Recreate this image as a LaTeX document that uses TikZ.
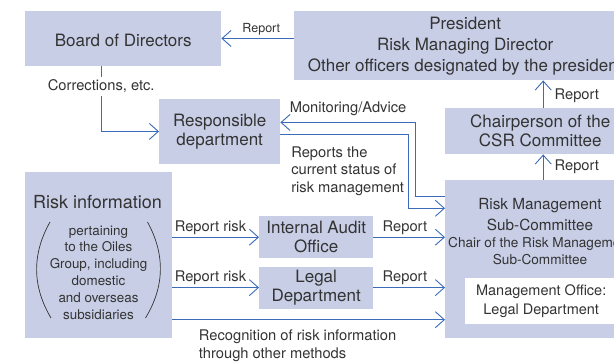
\documentclass[tikz,border=0pt]{standalone}
\usepackage{fontspec}
\setmainfont{TeX Gyre Heros}
\usetikzlibrary{arrows.meta,positioning}
\definecolor{riskfill}{RGB}{200,206,230}
\definecolor{riskblue}{RGB}{58,108,184}
\definecolor{risktext}{RGB}{51,51,51}
\newcommand{\fsz}[2]{\fontsize{#1}{#2}\selectfont}

\begin{document}
\begin{tikzpicture}[x=1pt, y=-1pt,
    box/.style={fill=riskfill, text=risktext, anchor=north west, inner sep=0pt, align=center, font=\fsz{17}{19},
        execute at begin node={\rule{0pt}{16.5pt}}},
    lbl/.style={text=risktext, inner sep=0pt, font=\fsz{14.7}{17.8}},
    link/.style={draw=riskblue, line width=0.9pt, -{Straight Barb[length=9pt,width=16pt]}}
]
\useasboundingbox (0,0) rectangle (614,363);
\clip (0,0) rectangle (614,363);

% boxes
\node[box, minimum width=196pt, minimum height=54.5pt] (board) at (25,11) {Board of Directors};
\node[box, minimum width=342pt, minimum height=69pt, font=\fsz{17}{21},
    execute at begin node={\rule{0pt}{18pt}}] (pres) at (294,11) {President\\Risk Managing Director\\Other officers designated by the president};
\node[box, minimum width=121pt, minimum height=64.5pt] (resp) at (159,99) {Responsible\\department};
\node[box, minimum width=190pt, minimum height=46pt] (chair) at (445,108) {Chairperson of the\\CSR Committee};
\node[box, minimum width=147pt, minimum height=166pt] (info) at (25,172) {};
\node[box, minimum width=114pt, minimum height=42pt] (audit) at (259,216) {Internal Audit\\Office};
\node[box, minimum width=114pt, minimum height=42pt, below=8pt of audit] (legal) {Legal\\Department};
\node[box, minimum width=190pt, minimum height=158pt] (rm) at (445,180) {};

% text of the risk information box
\node[text=risktext, font=\fsz{18}{20}] (infotitle) at (97.5,202.5) {Risk information};
\node[text=risktext, align=center, font=\fsz{13.4}{16.8}] (infobody) at (98.5,272.5) {pertaining\\to the Oiles\\Group, including\\domestic\\and overseas\\subsidiaries};
\draw[risktext, line width=0.7pt] (50,222) .. controls (32,254) and (32,286) .. (51,318);
\draw[risktext, line width=0.7pt] (147.5,222) .. controls (165,254) and (165,286) .. (145.5,318);

% text of the sub-committee box
\node[text=risktext, align=center, font=\fsz{15.3}{21.7}] (rmtitle) at (540,214.5) {Risk Management\\Sub-Committee};
\node[text=risktext, align=center, font=\fsz{13.6}{17}] (rmchair) at (540,251.5) {Chair of the Risk Management\\Sub-Committee};
\node[fill=white, text=risktext, anchor=north west, inner sep=0pt, align=center, minimum width=152pt, minimum height=46pt, font=\fsz{14.5}{19}] (office) at (465,278) {Management Office:\\Legal Department};

% connectors
\draw[link] (pres.west |- board.east) -- node[lbl, pos=0.45, above=3pt, font=\fsz{12.5}{14}] {Report} (board.east);
\draw[link] ([xshift=-22pt]board.south) |- node[lbl, pos=0.156, fill=white, inner sep=3pt] {Corrections, etc.} (resp.west);
\draw[link] ([yshift=-16.7pt]rm.north west) -- ++(-29.3,0) |- node[lbl, pos=0.75, above=6pt] {Monitoring/Advice} ([yshift=9pt]resp.east);
\draw[link] ([yshift=-3pt]resp.east) -- ++(128.3,0) |- ([yshift=-28.3pt]rm.north west);
\node[lbl, align=left, below right=14.7pt and 10.7pt of resp.east] (statuslbl) {Reports the\\current status of\\risk management};

\coordinate (chairtop) at ([xshift=3pt]chair.north);
\coordinate (rmtop) at ([xshift=3pt]rm.north);
\draw[link] (chairtop) -- node[lbl, right=11pt, yshift=-1.5pt] {Report} (chairtop |- pres.south);
\draw[link] (rmtop) -- node[lbl, right=11pt] {Report} (rmtop |- chair.south);

\draw[link] (info.east |- audit.west) -- node[lbl, pos=0.44, above=2.5pt] {Report risk} (audit.west);
\draw[link] (info.east |- legal.west) -- node[lbl, pos=0.44, above=2.5pt] {Report risk} (legal.west);
\draw[link] (audit.east) -- node[lbl, pos=0.44, above=2pt] {Report} (audit.east -| rm.west);
\draw[link] (legal.east) -- node[lbl, pos=0.44, above=2pt] {Report} (legal.east -| rm.west);

\coordinate (recog) at ([yshift=18.7pt]info.south east);
\draw[link] (recog) -- (recog -| rm.west);
\node[lbl, align=left, below right=10pt and 26.3pt of recog] (recoglbl) {Recognition of risk information\\through other methods};
\end{tikzpicture}
\end{document}
